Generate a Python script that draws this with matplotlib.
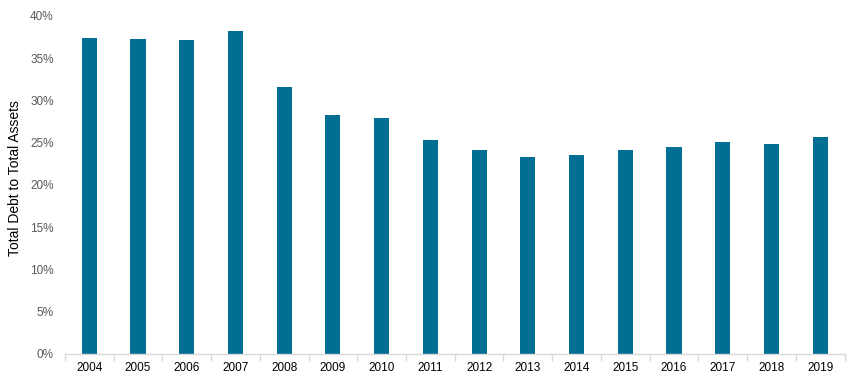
import matplotlib
matplotlib.use("Agg")
import matplotlib.pyplot as plt
from matplotlib.ticker import FuncFormatter, FixedLocator

years = ["2004", "2005", "2006", "2007", "2008", "2009", "2010", "2011",
         "2012", "2013", "2014", "2015", "2016", "2017", "2018", "2019"]
debt_ratio = [37.4, 37.3, 37.2, 38.2, 31.6, 28.3, 27.9, 25.3,
              24.1, 23.3, 23.5, 24.1, 24.5, 25.1, 24.8, 25.7]
y_ticks = [0, 5, 10, 15, 20, 25, 30, 35, 40]

plt.rcParams['font.family'] = ['Liberation Sans', 'DejaVu Sans']

fig = plt.figure(figsize=(8.54, 3.78), dpi=100)
ax = fig.add_axes([0.076, 0.0635, 0.913, 0.8945])

x = list(range(len(years)))
ax.bar(x, debt_ratio, width=0.31, color="#006F93")

ax.set_xlim(-0.5, len(years) - 0.5)
ax.set_ylim(0, 40)
ax.set_yticks(y_ticks)
ax.yaxis.set_major_formatter(FuncFormatter(lambda v, p: f"{v:.0f}%"))
ax.set_xticks(x)
ax.set_xticklabels(years)
ax.xaxis.set_minor_locator(FixedLocator([i - 0.5 for i in range(len(years) + 1)]))

for s in ["top", "right", "left"]:
    ax.spines[s].set_visible(False)
ax.spines["bottom"].set_color("#D9D9D9")
ax.spines["bottom"].set_linewidth(1)

ax.tick_params(axis="y", length=0, labelsize=8.5, labelcolor="#595959", pad=8)
ax.tick_params(axis="x", which="major", length=0, labelsize=8.5, labelcolor="#000000", pad=6)
ax.tick_params(axis="x", which="minor", length=5, color="#D9D9D9", width=1)

ax.set_ylabel("Total Debt to Total Assets", fontsize=10, color="#000000", labelpad=6)
ax.yaxis.set_label_coords(-0.055, 0.52)

fig.savefig("out.png", dpi=100)
